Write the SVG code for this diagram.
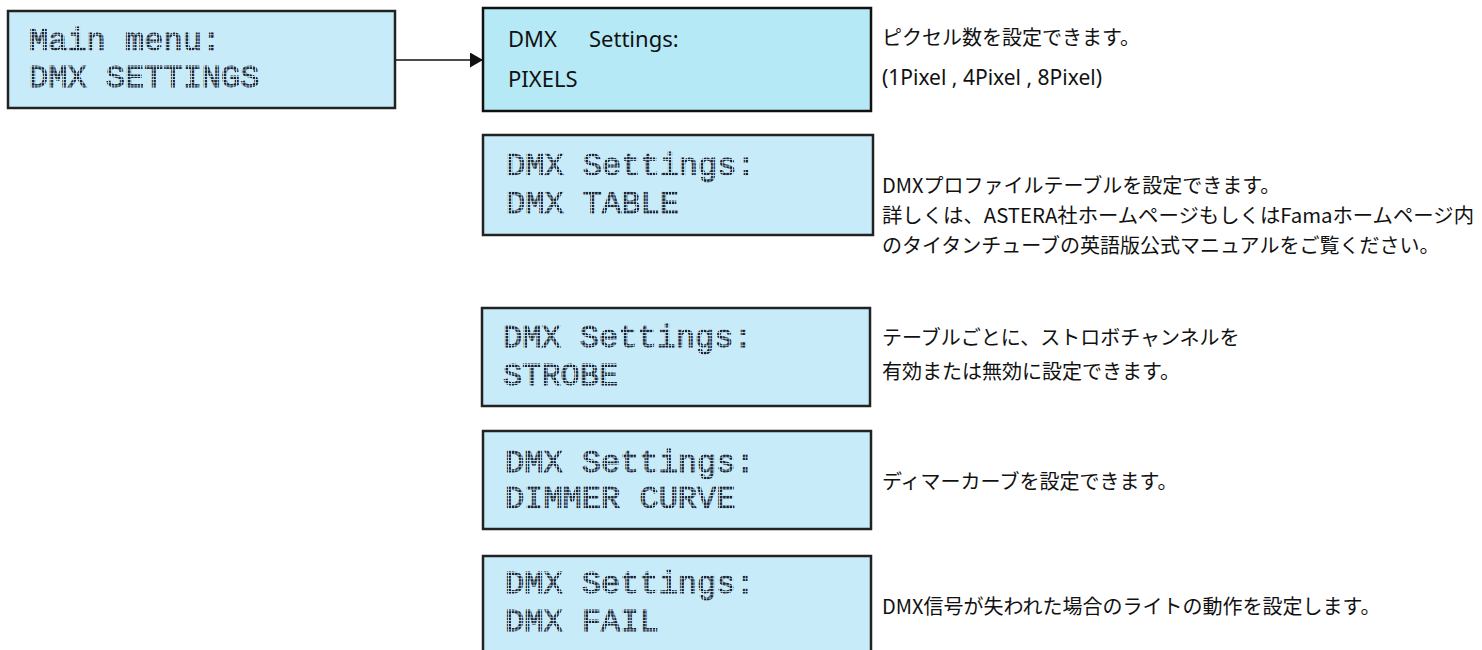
<svg xmlns="http://www.w3.org/2000/svg" width="1482" height="650" viewBox="0 0 1482 650">
  <style>
    .lcd { fill: #c8ebfa; stroke: #222; stroke-width: 2.5; }
    .sel { fill: #b6e9f6; stroke: #111; stroke-width: 2.5; }
    .dot { font-family: "Liberation Mono", "DejaVu Sans Mono", monospace; font-size: 32px; fill: url(#dots); stroke: url(#dots); stroke-width: 1; }
    .sans { font-family: "Noto Sans", "Liberation Sans", sans-serif; font-size: 22px; fill: #111; }
    .desc { font-family: "Noto Sans", "Noto Sans CJK JP", sans-serif; font-size: 20px; fill: #111; }
    .jp { font-family: "Noto Sans CJK JP", "Noto Sans", sans-serif; }
    .conn { stroke: #111; stroke-width: 1.5; fill: none; }
  </style>
  <defs>
    <pattern id="dots" width="3.2" height="3.2" patternUnits="userSpaceOnUse">
      <rect width="2.4" height="2.4" fill="#1c2230"/>
    </pattern>
    <marker id="arrow" markerWidth="14" markerHeight="15" refX="13" refY="7.5" orient="auto" markerUnits="userSpaceOnUse">
      <path d="M0,0 L13,7.5 L0,15 Z" fill="#111"/>
    </marker>
  </defs>
  <rect width="1482" height="650" fill="#ffffff"/>

  <g id="node-main">
    <rect class="lcd" x="8" y="11" width="387" height="97"/>
    <text class="dot" x="29" y="50">Main menu:</text>
    <text class="dot" x="29" y="87">DMX SETTINGS</text>
  </g>

  <g id="node-pixels">
    <rect class="sel" x="483" y="8" width="388" height="103"/>
    <text class="sans" y="47"><tspan x="508">DMX</tspan><tspan x="589">Settings:</tspan></text>
    <text class="sans" x="508" y="87">PIXELS</text>
  </g>
  <g id="desc-pixels" class="desc">
    <text class="jp" x="882" y="45">ピクセル数を設定できます。</text>
    <text x="882" y="85" style="font-size:21px">(1Pixel , 4Pixel , 8Pixel)</text>
  </g>

  <g id="node-table">
    <rect class="lcd" x="483" y="135" width="390" height="100"/>
    <text class="dot" x="506" y="175">DMX Settings:</text>
    <text class="dot" x="506" y="213">DMX TABLE</text>
  </g>
  <g id="desc-table" class="desc jp">
    <text x="882" y="193">DMXプロファイルテーブルを設定できます。</text>
    <text x="882" y="223" textLength="592" lengthAdjust="spacingAndGlyphs">詳しくは、ASTERA社ホームページもしくはFamaホームページ内</text>
    <text x="882" y="253">のタイタンチューブの英語版公式マニュアルをご覧ください。</text>
  </g>

  <g id="node-strobe">
    <rect class="lcd" x="482" y="308" width="388" height="98"/>
    <text class="dot" x="503" y="347">DMX Settings:</text>
    <text class="dot" x="503" y="385">STROBE</text>
  </g>
  <g id="desc-strobe" class="desc jp">
    <text x="882" y="345">テーブルごとに、ストロボチャンネルを</text>
    <text x="882" y="379">有効または無効に設定できます。</text>
  </g>

  <g id="node-dimmer">
    <rect class="lcd" x="483" y="431" width="388" height="98"/>
    <text class="dot" x="505" y="472">DMX Settings:</text>
    <text class="dot" x="505" y="508">DIMMER CURVE</text>
  </g>
  <g id="desc-dimmer" class="desc jp">
    <text x="882" y="489">ディマーカーブを設定できます。</text>
  </g>

  <g id="node-fail">
    <rect class="lcd" x="483" y="556" width="388" height="100"/>
    <text class="dot" x="505" y="593">DMX Settings:</text>
    <text class="dot" x="505" y="631">DMX FAIL</text>
  </g>
  <g id="desc-fail" class="desc jp">
    <text x="882" y="614">DMX信号が失われた場合のライトの動作を設定します。</text>
  </g>

  <g id="connectors">
    <line class="conn" x1="396" y1="60" x2="483" y2="60" marker-end="url(#arrow)"/>
  </g>
</svg>
